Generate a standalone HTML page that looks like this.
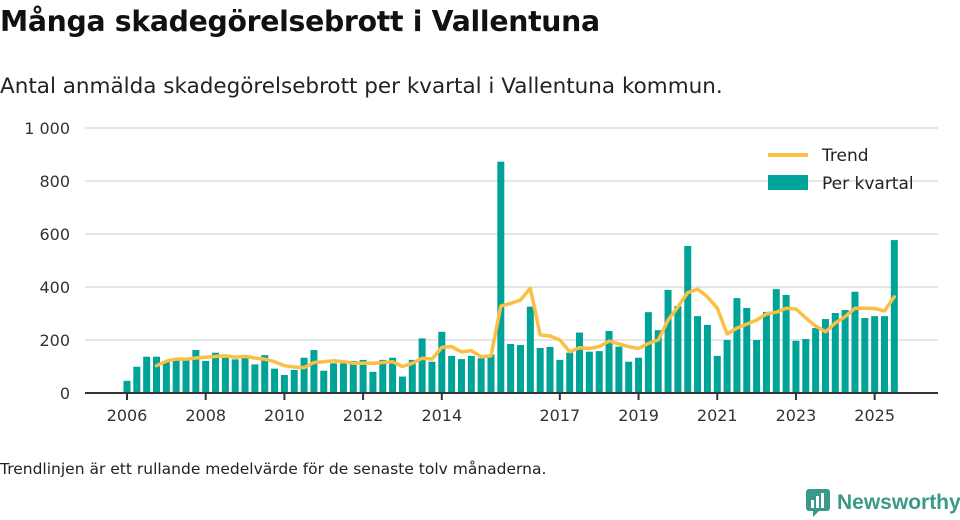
<!DOCTYPE html>
<html><head><meta charset="utf-8"><style>
body{margin:0;background:#fff;font-family:"DejaVu Sans","Noto Sans CJK SC",sans-serif;color:#111}
#wrap{position:relative;width:960px;height:520px;overflow:hidden}
h1{position:absolute;left:0;top:5px;margin:0;font-size:28.3px;font-weight:bold;letter-spacing:-0.3px}
.sub{position:absolute;left:0;top:74px;font-size:21.5px;color:#222}
.foot{position:absolute;left:0;top:460px;font-size:15.5px;color:#222}
.logo{position:absolute;left:805px;top:488px;font-size:21px;font-weight:bold;color:#3a9a8a;display:flex;align-items:center;gap:6px;font-family:"Liberation Sans",sans-serif}
</style></head><body><div id="wrap">
<h1>Många skadegörelsebrott i Vallentuna</h1>
<div class="sub">Antal anmälda skadegörelsebrott per kvartal i Vallentuna kommun.</div>
<svg id="chart" width="960" height="520" style="position:absolute;left:0;top:0"></svg>
<div class="foot">Trendlinjen är ett rullande medelvärde för de senaste tolv månaderna.</div>
<div class="logo"><svg width="26" height="30" viewBox="0 0 26 30"><rect x="1" y="1" width="24" height="22" rx="3" fill="#3a9a8a"/><polygon points="8,23 14,23 8,29" fill="#3a9a8a"/><rect x="6" y="12" width="3" height="8" fill="#fff"/><rect x="11" y="8" width="3" height="12" fill="#fff"/><rect x="16" y="5" width="3" height="15" fill="#fff"/></svg><span>Newsworthy</span></div>
</div>
<script>
const startYear = 2006;
const barValues = [46,99,137,137,118,125,124,162,121,152,133,127,137,108,143,92,68,87,133,162,84,112,112,121,125,80,125,133,62,125,206,118,231,140,128,140,131,145,873,185,181,326,170,174,125,152,228,156,158,234,175,118,133,305,237,389,328,555,290,257,140,200,358,321,200,306,392,370,197,204,245,279,302,313,382,283,290,290,577];
const trendStart = 3;
const trendValues = [103,120,128,128,132,135,138,140,135,138,132,128,118,103,98,96,115,118,122,118,112,113,112,115,118,100,112,131,128,172,175,155,160,137,140,328,338,351,395,219,215,200,156,171,168,175,196,185,175,168,187,200,275,325,379,392,363,320,223,245,260,275,298,305,320,317,283,253,231,264,288,320,320,319,310,363];
const yTicks = [0,200,400,600,800,1000];
const yTickLabels = ["0","200","400","600","800","1 000"];
const xTickYears = [2006,2008,2010,2012,2014,2017,2019,2021,2023,2025];
const NS="http://www.w3.org/2000/svg";
const FF="DejaVu Sans, sans-serif";
const svg=document.getElementById('chart');
const y0=393,pxPerUnit=0.265,x2006=127,pxPerYear=39.35;
const yS=v=>y0-v*pxPerUnit;
const xS=t=>x2006+(t-startYear)*pxPerYear;
const xQ=i=>xS(startYear+i/4);
function el(t,a){const e=document.createElementNS(NS,t);for(const k in a)e.setAttribute(k,a[k]);svg.appendChild(e);return e;}
yTicks.forEach((v,i)=>{
 const g=el('line',{x1:85,x2:938,y1:yS(v),y2:yS(v),stroke:'#dddddd','stroke-width':1.5});
 
 
 const t=el('text',{x:70,y:yS(v)+6,'text-anchor':'end','font-size':16,fill:'#333','font-family':FF});
 t.textContent=yTickLabels[i];
 
 
});
barValues.forEach((v,i)=>{
 const r=el('rect',{x:xQ(i)-3.5,y:yS(v),width:7,height:v*pxPerUnit,fill:'#00a398'});
 
 
});
const ax=el('line',{x1:85,x2:938,y1:y0,y2:y0,stroke:'#333','stroke-width':2});


xTickYears.forEach(yr=>{
 const x=xS(yr);
 const l=el('line',{x1:x,x2:x,y1:y0,y2:y0+7,stroke:'#333','stroke-width':2});
 
 
 const t=el('text',{x:x,y:421,'text-anchor':'middle','font-size':16,fill:'#333','font-family':FF});
 t.textContent=yr;
 
 
});
const pts=trendValues.map((v,i)=>xQ(i+trendStart).toFixed(1)+','+yS(v).toFixed(1)).join(' ');
const pl=el('polyline',{points:pts,fill:'none',stroke:'#fbbf45','stroke-width':3.5,'stroke-linejoin':'round','stroke-linecap':'round'});


const ll=el('line',{x1:768,x2:808,y1:155,y2:155,stroke:'#fbbf45','stroke-width':4});


const lt=el('text',{x:822,y:161,'font-size':17,fill:'#222','font-family':FF});lt.textContent='Trend';


const lr=el('rect',{x:768,y:175,width:40,height:15,fill:'#00a398'});


const lt2=el('text',{x:822,y:189,'font-size':17,fill:'#222','font-family':FF});lt2.textContent='Per kvartal';


</script></body></html>
